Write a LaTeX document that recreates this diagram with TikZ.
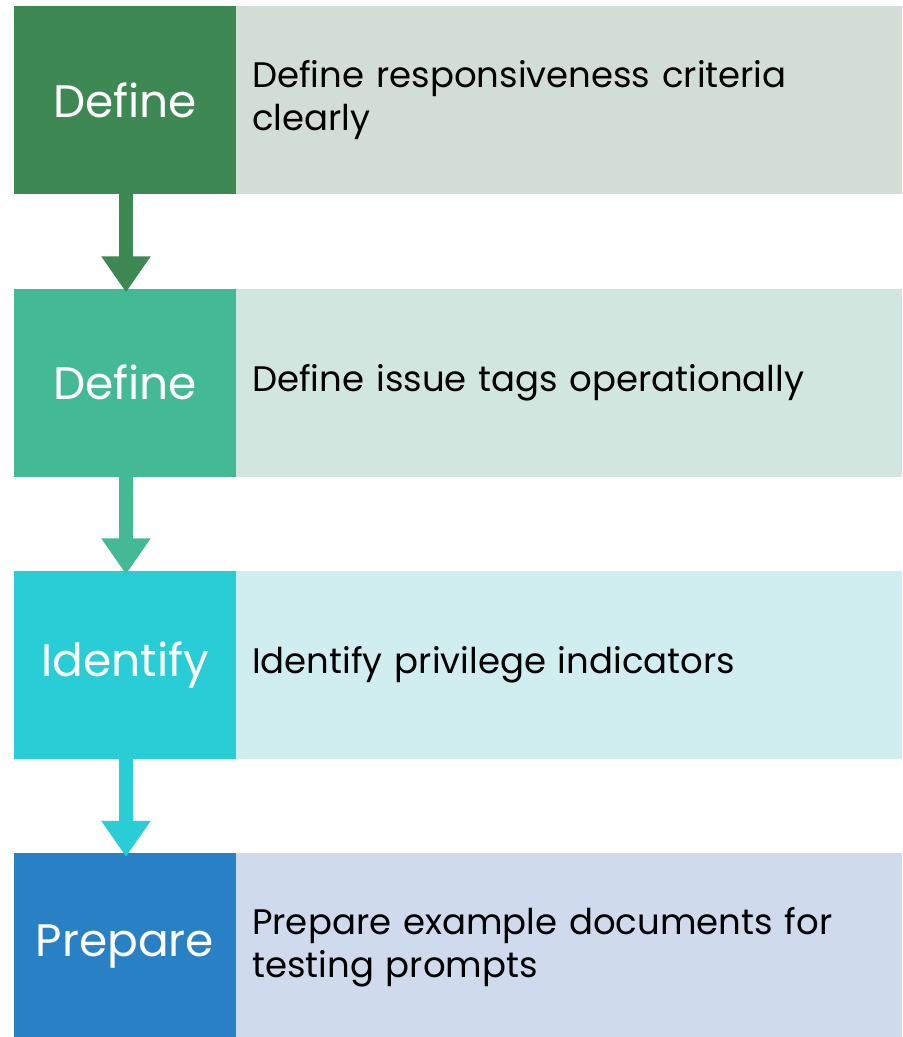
\documentclass[tikz,border=0pt]{standalone}
\usepackage{fontspec}
\setmainfont{Poppins}
\usetikzlibrary{arrows.meta}
\definecolor{dA}{HTML}{3E8853}\definecolor{lA}{HTML}{D2DDD5}
\definecolor{dB}{HTML}{43BA94}\definecolor{lB}{HTML}{D1E6DE}
\definecolor{dC}{HTML}{28CDD5}\definecolor{lC}{HTML}{D0EEF0}
\definecolor{dD}{HTML}{2881C4}\definecolor{lD}{HTML}{CFDAEC}
\begin{document}
\begin{tikzpicture}[x=1pt,y=-1pt,
  lbox/.style={minimum width=222pt,minimum height=188pt,inner sep=0pt,text=white,font=\fontsize{45.5}{54}\selectfont},
  rbox/.style={minimum width=666pt,minimum height=188pt,inner xsep=16pt,inner ysep=0pt,text width=634pt,align=left,text=black,font=\fontsize{35.5}{43}\selectfont},
  flow/.style={line width=14pt,-{Triangle[length=36pt,width=47pt]}}]
\useasboundingbox (0,0) rectangle (903,1037);
\fill[white] (0,0) rectangle (903,1037);
\node[lbox,fill=dA] (l1) at (125,100) {Define};
\node[rbox,fill=lA,anchor=west] (r1) at (236,100) {Define responsiveness criteria\\clearly};
\node[lbox,fill=dB] (l2) at (125,382.5) {Define};
\node[rbox,fill=lB,anchor=west] (r2) at (236,382.5) {Define issue tags operationally};
\node[lbox,fill=dC] (l3) at (125,664.5) {Identify};
\node[rbox,fill=lC,anchor=west] (r3) at (236,664.5) {Identify privilege indicators};
\node[lbox,fill=dD] (l4) at (125,947) {Prepare};
\node[rbox,fill=lD,anchor=west] (r4) at (236,947) {Prepare example documents for\\testing prompts};
\draw[flow,dA] ([xshift=1pt]l1.south) -- ([xshift=1pt,yshift=-4pt]l2.north);
\draw[flow,dB] ([xshift=1pt]l2.south) -- ([xshift=1pt,yshift=-4pt]l3.north);
\draw[flow,dC] ([xshift=1pt]l3.south) -- ([xshift=1pt,yshift=-4pt]l4.north);
\end{tikzpicture}
\end{document}
